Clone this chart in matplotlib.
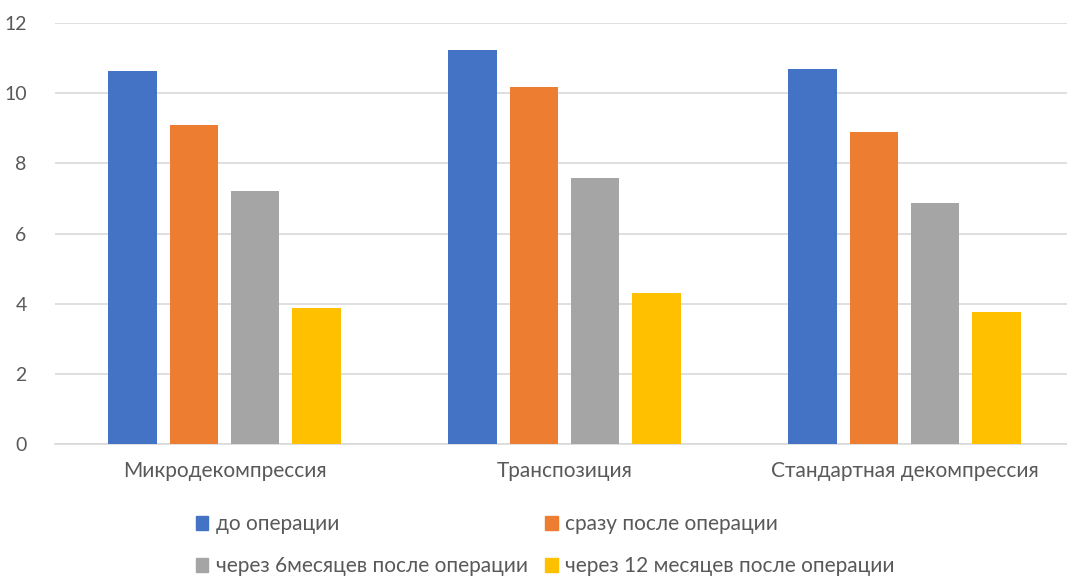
import numpy as np
import matplotlib.pyplot as plt
from matplotlib.patches import Patch

plt.rcParams['font.family'] = ['Lato', 'DejaVu Sans']

categories = ['Микродекомпрессия', 'Транспозиция', 'Стандартная декомпрессия']
series_names = ['до операции', 'сразу после операции',
                'через 6месяцев после операции', 'через 12 месяцев после операции']
before = [10.63, 11.23, 10.69]
right_after = [9.09, 10.18, 8.89]
after_6m = [7.21, 7.58, 6.87]
after_12m = [3.88, 4.30, 3.76]
colors = ['#4472C4', '#ED7D31', '#A5A5A5', '#FFC000']

values = [before, right_after, after_6m, after_12m]
text_color = '#595959'

fig = plt.figure(figsize=(10.67, 5.76), dpi=100)
ax = fig.add_axes([0.0511, 0.229, 0.956, 0.731])

x = np.arange(len(categories))
bar_width = 0.143
step = 0.18
for i, (vals, col) in enumerate(zip(values, colors)):
    ax.bar(x + (i - 1.5) * step, vals, width=bar_width, color=col, zorder=3)

ax.set_xlim(-0.5, 2.5)
ax.set_ylim(0, 12)
ax.set_yticks(range(0, 13, 2))
ax.yaxis.grid(True, color='#D9D9D9', linewidth=1.2, zorder=0)
ax.set_xticks(x)
ax.set_xticklabels(categories, fontsize=15, color=text_color)
ax.tick_params(axis='y', labelsize=14, labelcolor=text_color, length=0, pad=20)
ax.tick_params(axis='x', length=0, pad=12)
for s in ['top', 'right', 'left']:
    ax.spines[s].set_visible(False)
ax.spines['bottom'].set_color('#D9D9D9')
ax.spines['bottom'].set_linewidth(1.2)

# legend fills column-wise, so reorder to get row-wise layout
order = [0, 2, 1, 3]
handles = [Patch(color=colors[k]) for k in order]
labels = [series_names[k] for k in order]
fig.legend(handles, labels, ncol=2, loc='lower left',
           bbox_to_anchor=(0.166, -0.033), frameon=False, fontsize=15,
           labelcolor=text_color, handlelength=0.6, handleheight=0.6,
           handletextpad=0.35, columnspacing=0.85, labelspacing=1.05)

fig.savefig('out.png', dpi=100)
